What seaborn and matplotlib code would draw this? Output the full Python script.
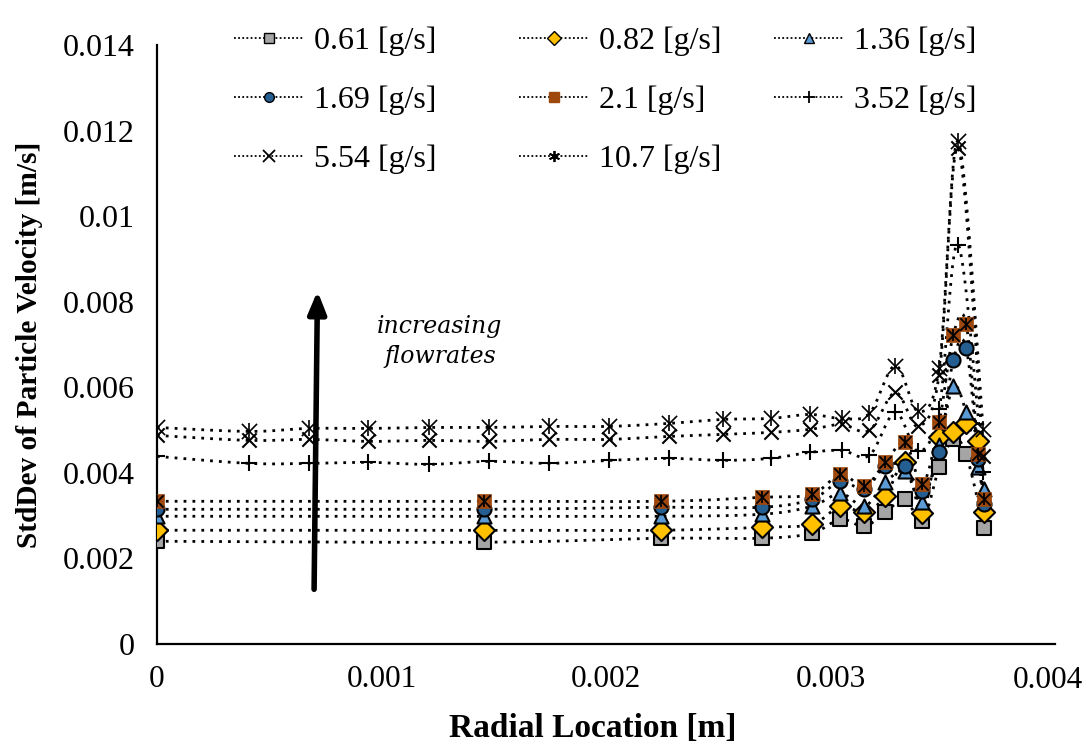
import numpy as np
import pandas as pd
import matplotlib
matplotlib.use("Agg")
import matplotlib.pyplot as plt
import seaborn as sns

sns.set_theme(style="white")
plt.rcParams['font.family'] = ['Liberation Serif', 'DejaVu Serif']
plt.rcParams['text.color'] = 'black'
plt.rcParams['axes.labelcolor'] = 'black'
plt.rcParams['xtick.color'] = 'black'
plt.rcParams['ytick.color'] = 'black'

# ---------------- data ----------------
x_low = [0, 0.001458, 0.002244, 0.002693, 0.002916, 0.003044, 0.003151, 0.003244,
         0.003333, 0.003409, 0.003484, 0.003547, 0.003604, 0.003658, 0.003684]
x_low_sq = [0, 0.001458, 0.002244, 0.002693, 0.002916, 0.003044, 0.003151, 0.003244,
            0.003333, 0.003409, 0.003484, 0.003547, 0.003604, 0.003684]
x_high = [0, 0.000409, 0.000676, 0.000942, 0.001213, 0.00148, 0.001747, 0.002013,
          0.00228, 0.00252, 0.002733, 0.002907, 0.003049, 0.003173, 0.003289,
          0.003391, 0.003484, 0.003569, 0.00368]

s061 = [0.002403, 0.00238, 0.002473, 0.002473, 0.00259, 0.002917, 0.002753, 0.00308,
        0.003383, 0.00287, 0.00413, 0.004783, 0.004433, 0.002707]
s082 = [0.00266, 0.00266, 0.00266, 0.00273, 0.0028, 0.00322, 0.00308, 0.003453,
        0.004247, 0.003057, 0.00483, 0.004947, 0.005157, 0.004737, 0.00308]
s136 = [0.002987, 0.002987, 0.002987, 0.003033, 0.00322, 0.003523, 0.00322, 0.00378,
        0.004037, 0.003313, 0.004643, 0.00602, 0.005413, 0.00413, 0.003617]
s169 = [0.00315, 0.00315, 0.003197, 0.003197, 0.003383, 0.003803, 0.003617, 0.004153,
        0.004153, 0.00357, 0.00448, 0.00665, 0.00693, 0.004317, 0.003267]
s210 = [0.003337, 0.003337, 0.003337, 0.00343, 0.0035, 0.003967, 0.003687, 0.004247,
        0.004713, 0.003733, 0.00518, 0.007233, 0.00749, 0.004433, 0.003383]
s352 = [0.004387, 0.004223, 0.004223, 0.004247, 0.0042, 0.00427, 0.004223, 0.004293,
        0.00434, 0.004293, 0.00434, 0.00448, 0.004527, 0.00441, 0.005413, 0.004503,
        0.005483, 0.009333, 0.004013]
s554 = [0.004877, 0.00476, 0.004783, 0.004737, 0.00476, 0.004737, 0.004783, 0.004783,
        0.004853, 0.0049, 0.004947, 0.005017, 0.005133, 0.004993, 0.00588, 0.005087,
        0.0063, 0.0116, 0.004387]
s107 = [0.005063, 0.00497, 0.00504, 0.00504, 0.005063, 0.005063, 0.005087, 0.005087,
        0.005157, 0.00525, 0.005273, 0.005367, 0.005273, 0.00539, 0.00651, 0.005437,
        0.006463, 0.01175, 0.005017]

labels = ["0.61 [g/s]", "0.82 [g/s]", "1.36 [g/s]", "1.69 [g/s]",
          "2.1 [g/s]", "3.52 [g/s]", "5.54 [g/s]", "10.7 [g/s]"]
xs = [x_low_sq, x_low, x_low, x_low, x_low, x_high, x_high, x_high]
ys = [s061, s082, s136, s169, s210, s352, s554, s107]
x_tick_vals = [0, 0.001, 0.002, 0.003, 0.004]
x_tick_text = ["0", "0.001", "0.002", "0.003", "0.004"]
y_tick_vals = [0, 0.002, 0.004, 0.006, 0.008, 0.01, 0.012, 0.014]
y_tick_text = ["0", "0.002", "0.004", "0.006", "0.008", "0.01", "0.012", "0.014"]

# marker styles: (marker, facecolor, size)
styles = [
    ("s", "#A5A5A5", 8),
    ("D", "#FFC000", 8.5),
    ("^", "#5B9BD5", 8),
    ("o", "#255E91", 8),
    ("s", "#9E480E", 8.5),
    ("+", "black", 10),
    ("x", "black", 9),
    ("*", "black", 10),
]


def smooth(x, y, n=20):
    """Bezier smoothing of the connecting line (Excel-like smoothed line)."""
    x = np.asarray(x, float)
    y = np.asarray(y, float)
    px = np.concatenate([[x[0]], x, [x[-1]]])
    py = np.concatenate([[y[0]], y, [y[-1]]])
    ox, oy = [], []
    for i in range(1, len(px) - 2):
        t = np.linspace(0, 1, n, endpoint=False)
        p0x, p1x, p2x, p3x = px[i - 1], px[i], px[i + 1], px[i + 2]
        p0y, p1y, p2y, p3y = py[i - 1], py[i], py[i + 1], py[i + 2]
        c1x = p1x + (p2x - p0x) / 6
        c1y = p1y + (p2y - p0y) / 6
        c2x = p2x - (p3x - p1x) / 6
        c2y = p2y - (p3y - p1y) / 6
        bx = (1 - t) ** 3 * p1x + 3 * (1 - t) ** 2 * t * c1x + 3 * (1 - t) * t ** 2 * c2x + t ** 3 * p2x
        by = (1 - t) ** 3 * p1y + 3 * (1 - t) ** 2 * t * c1y + 3 * (1 - t) * t ** 2 * c2y + t ** 3 * p2y
        ox.extend(bx)
        oy.extend(by)
    ox.append(x[-1])
    oy.append(y[-1])
    return np.array(ox), np.array(oy)


fig = plt.figure(figsize=(10.86, 7.45), dpi=100)
ax = fig.add_axes([0.1445, 0.1355, 0.827, 0.804])

handles = []
for lab, x, y, (mk, fc, ms) in zip(labels, xs, ys, styles):
    sx, sy = smooth(x, y)
    d_line = pd.DataFrame({"x": sx, "y": sy})
    sns.lineplot(data=d_line, x="x", y="y", ax=ax, sort=False, estimator=None,
                 color="black", linestyle=(0, (1, 2.2)), linewidth=2.0, zorder=2)
    d_pts = pd.DataFrame({"x": x, "y": y})
    if mk in ("+", "x"):
        sns.scatterplot(data=d_pts, x="x", y="y", ax=ax, marker=mk, s=ms ** 2 * 1.3,
                        color="black", linewidth=1.5, zorder=3)
    elif mk == "*":
        sns.scatterplot(data=d_pts, x="x", y="y", ax=ax, marker="x", s=ms ** 2 * 1.2,
                        color="black", linewidth=1.2, zorder=3)
        sns.scatterplot(data=d_pts, x="x", y="y", ax=ax, marker="|", s=ms ** 2 * 1.2,
                        color="black", linewidth=1.2, zorder=3)
    elif lab.startswith("2.1"):
        sns.scatterplot(data=d_pts, x="x", y="y", ax=ax, marker="s", s=ms ** 2 * 1.6,
                        color=fc, edgecolor=fc, linewidth=0.5, zorder=3)
        sns.scatterplot(data=d_pts, x="x", y="y", ax=ax, marker="x", s=ms ** 2 * 1.1,
                        color="black", linewidth=1.3, zorder=3)
        sns.scatterplot(data=d_pts, x="x", y="y", ax=ax, marker="|", s=ms ** 2 * 1.1,
                        color="black", linewidth=1.3, zorder=3)
    else:
        sns.scatterplot(data=d_pts, x="x", y="y", ax=ax, marker=mk, s=ms ** 2 * 1.6,
                        color=fc, edgecolor="black", linewidth=1.5, zorder=3)

    if mk == "*":
        hm = (6, 2, 0)
    elif lab.startswith("2.1"):
        hm = "s"
    else:
        hm = mk
    plain = mk not in ("+", "x", "*")
    h = matplotlib.lines.Line2D([], [], color="black", linestyle=(0, (1, 1.3)), linewidth=1.3,
                                marker=hm, markersize=7 if plain else 8,
                                markerfacecolor=fc, markeredgecolor="black",
                                markeredgewidth=1.0 if plain else 1.3)
    if lab.startswith("2.1"):
        h.set_markeredgecolor(fc)
    handles.append(h)

ax.set_xlim(0, 0.004)
ax.set_ylim(0, 0.014)
ax.set_xticks(x_tick_vals)
ax.set_xticklabels(x_tick_text[:-1] + [""])
ax.set_yticks(y_tick_vals)
ax.set_yticklabels(y_tick_text)
ax.tick_params(axis="y", labelsize=23, length=0, colors="black", pad=16)
ax.tick_params(axis="x", labelsize=22.5, length=0, colors="black", pad=15)
# last x tick label, nudged so it stays inside the canvas
fig.text(1083 / 1086, 1 - 680 / 745, x_tick_text[-1], fontsize=22.5, ha="right",
         va="center", color="black")

for side in ("top", "right"):
    ax.spines[side].set_visible(False)
for side in ("left", "bottom"):
    ax.spines[side].set_color("black")
    ax.spines[side].set_linewidth(1.6)

ax.set_xlabel("Radial Location [m]", fontsize=24, fontweight="bold", labelpad=8, color="black")
ax.set_ylabel("StdDev of Particle Velocity [m/s]", fontsize=21.2, fontweight="bold",
              labelpad=14, color="black")
ax.xaxis.set_label_coords(0.485, -0.115)

# legend: three columns placed like the reference
col_groups = [[0, 3, 6], [1, 4, 7], [2, 5]]
col_x = [234, 519, 774]
for grp, cx in zip(col_groups, col_x):
    lg = fig.legend([handles[i] for i in grp], [labels[i] for i in grp],
                    ncol=1, loc="upper left", bbox_to_anchor=(cx / 1086, 1 - 27 / 745),
                    frameon=False, fontsize=23, handlelength=2.2, handletextpad=0.3,
                    labelspacing=0.92, borderaxespad=0, borderpad=0, labelcolor="black")

# arrow annotation
ax.annotate("", xy=(0.000715, 0.00825), xytext=(0.0007, 0.00128),
            arrowprops=dict(arrowstyle="-|>,head_width=0.45,head_length=1.1",
                            color="black", linewidth=4.0, shrinkA=0, shrinkB=0))
ax.text(0.00126, 0.00708, "increasing\nflowrates", fontsize=17, style="italic",
        ha="center", va="center", linespacing=1.4, family=["DejaVu Serif"], color="black")

fig.savefig("out.png", dpi=100)
